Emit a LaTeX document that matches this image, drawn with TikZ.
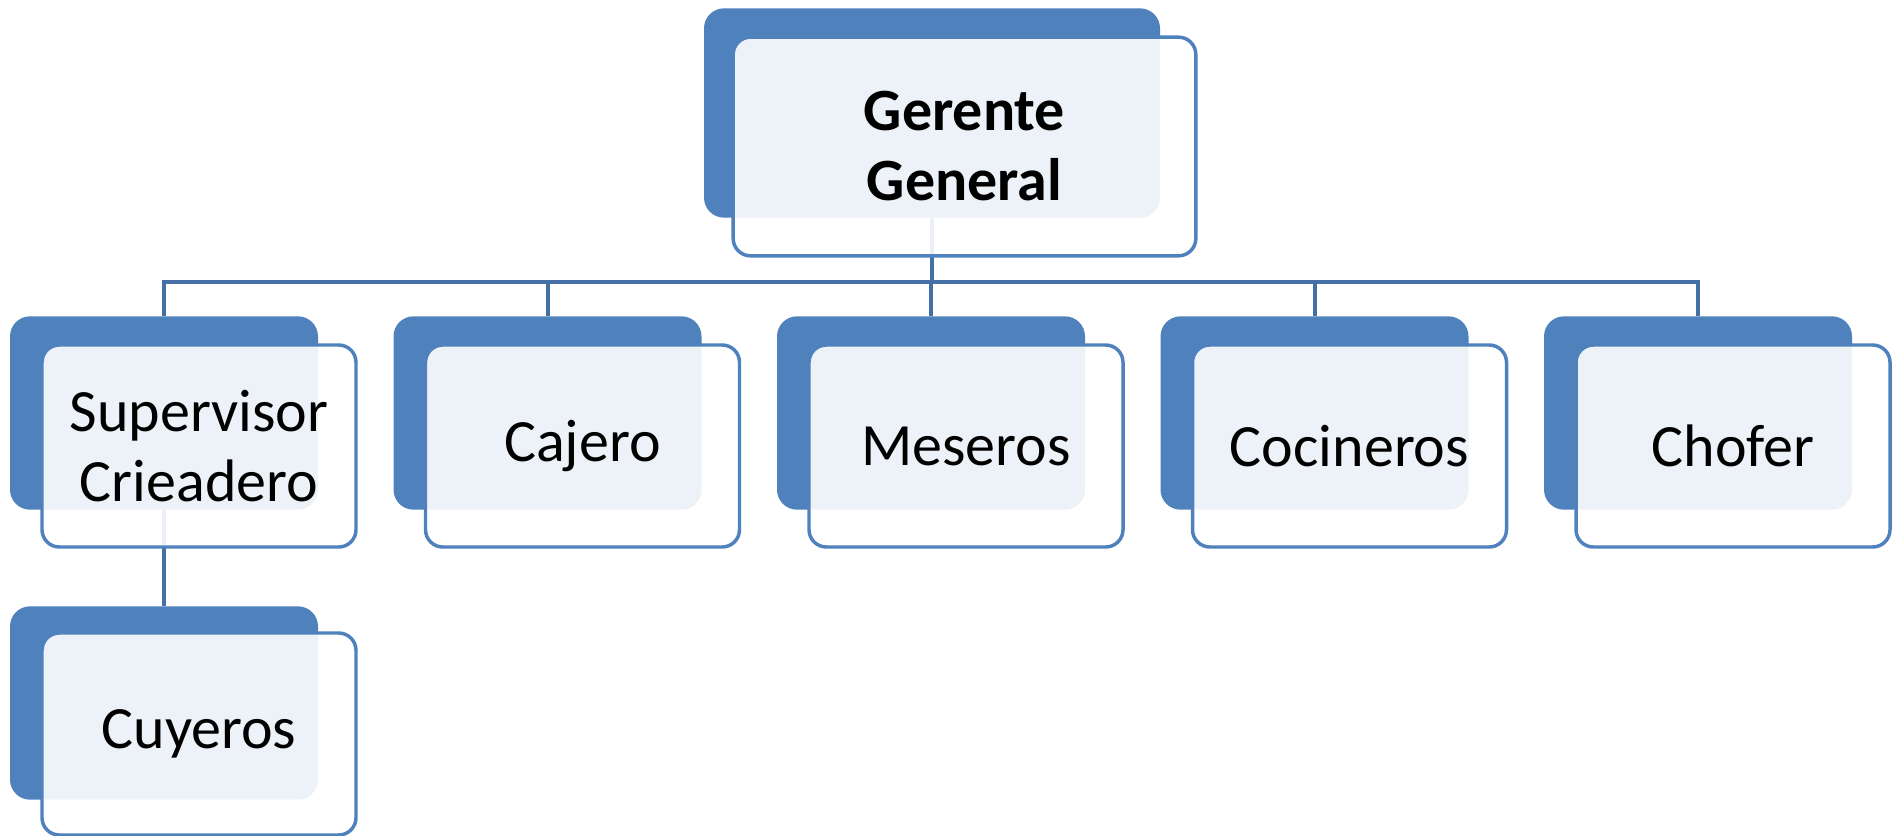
\documentclass[tikz,border=0pt]{standalone}
\usepackage{fontspec}
\setmainfont{Carlito}
\usepackage{tikz}

\definecolor{boxblue}{RGB}{79,129,189}
\definecolor{linkblue}{RGB}{69,112,165}

\tikzset{
  backbox/.style={fill=boxblue, draw=none, rounded corners=15pt, inner sep=0pt},
  frontbox/.style={fill=white, fill opacity=0.9, text opacity=1, draw=boxblue, line width=2.6pt,
    rounded corners=13pt, align=center, inner sep=0pt, font=\fontsize{45}{52.5}\selectfont},
  topsize/.style={minimum width=342pt, minimum height=157pt},
  kidsize/.style={minimum width=231pt, minimum height=145pt},
  link/.style={draw=linkblue, line width=3pt}
}

\begin{document}
\begin{tikzpicture}[x=0.75pt,y=0.75pt,yscale=-1,xscale=1]
\useasboundingbox (0,0) rectangle (1894,835);

% back boxes
\node[backbox, topsize] (gg-b) at (932,113) {};
\node[backbox, kidsize] (sup-b) at (164,413) {};
\node[backbox, kidsize] (caj-b) at (547.5,413) {};
\node[backbox, kidsize] (mes-b) at (931,413) {};
\node[backbox, kidsize] (coc-b) at (1314.5,413) {};
\node[backbox, kidsize] (cho-b) at (1698,413) {};
\node[backbox, kidsize] (cuy-b) at (164,703) {};

% connectors
\coordinate (bus) at (931,282);
\draw[link] (gg-b.south) -- (gg-b.south |- bus);
\draw[link] (sup-b.north) |- (bus) -| (cho-b.north);
\draw[link] (caj-b.north) -- (caj-b.north |- bus);
\draw[link] (mes-b.north) -- (mes-b.north |- bus);
\draw[link] (coc-b.north) -- (coc-b.north |- bus);
\draw[link] (sup-b.south) -- (cuy-b.north);

% front boxes
\node[frontbox, minimum width=347pt, minimum height=164pt, font=\fontsize{45}{52.5}\selectfont\bfseries] (gg) at (964.5,146.5) {Gerente\\General};
\node[frontbox, minimum width=235.5pt, minimum height=151.5pt] (sup) at (199,446) {Supervisor\\Crieadero};
\node[frontbox, minimum width=235.5pt, minimum height=151.5pt] (caj) at (582.5,446) {Cajero};
\node[frontbox, minimum width=235.5pt, minimum height=151.5pt] (mes) at (966,446) {Meseros};
\node[frontbox, minimum width=235.5pt, minimum height=151.5pt] (coc) at (1349.5,446) {Cocineros};
\node[frontbox, minimum width=235.5pt, minimum height=151.5pt] (cho) at (1733,446) {Chofer};
\node[frontbox, minimum width=235.5pt, minimum height=151.5pt] (cuy) at (199,734) {Cuyeros};

\end{tikzpicture}
\end{document}
